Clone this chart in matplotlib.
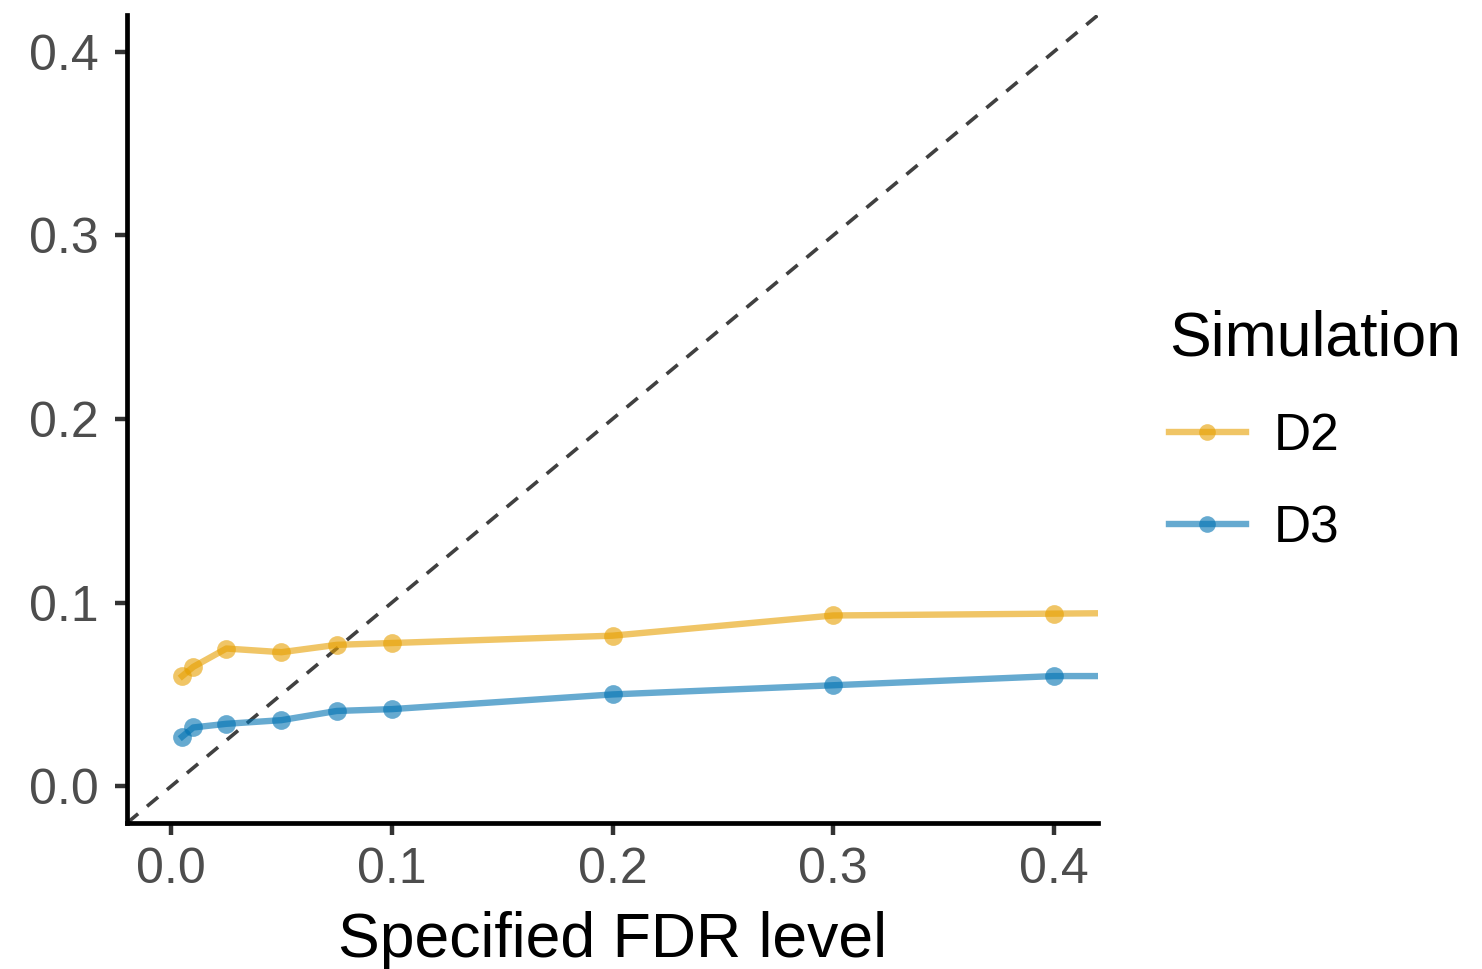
import matplotlib
matplotlib.use("Agg")
import matplotlib.pyplot as plt

plt.rcParams['font.family'] = ['Liberation Sans', 'DejaVu Sans']

fdr_level = [0.005, 0.01, 0.025, 0.05, 0.075, 0.1, 0.2, 0.3, 0.4, 0.5]
d2_fdp = [0.060, 0.065, 0.075, 0.073, 0.077, 0.078, 0.082, 0.093, 0.094, 0.095]
d3_fdp = [0.027, 0.032, 0.034, 0.036, 0.041, 0.042, 0.050, 0.055, 0.060, 0.060]
series = [("D2", d2_fdp, "#E69F00"), ("D3", d3_fdp, "#0072B2")]

xticks = [0.0, 0.1, 0.2, 0.3, 0.4]
yticks = [0.0, 0.1, 0.2, 0.3, 0.4]

fig = plt.figure(figsize=(14.82, 9.69), dpi=100)
ax = fig.add_axes([0.0857, 0.1507, 0.6552, 0.8338])

# identity line
ax.plot([-0.02, 1], [-0.02, 1], ls=(0, (4, 3.2)), color="#404040", lw=2.6, zorder=1)

for name, vals, col in series:
    ax.plot(fdr_level, vals, color=col, alpha=0.6, lw=4.6, zorder=2)
    ax.plot(fdr_level, vals, ls="none", marker="o", ms=13.5, color=col,
            alpha=0.6, markeredgewidth=0, zorder=3)

# legend proxies: line with marker
handles = []
for name, vals, col in series:
    h, = ax.plot([], [], color=col, alpha=0.6, lw=4.6, marker="o", ms=12,
                 markeredgewidth=0, label=name)
    handles.append(h)

ax.set_xlim(-0.02, 0.42)
ax.set_ylim(-0.02, 0.42)
ax.set_xticks(xticks)
ax.set_yticks(yticks)
ax.set_xticklabels([f"{t:.1f}" for t in xticks])
ax.set_yticklabels([f"{t:.1f}" for t in yticks])
ax.tick_params(labelsize=36, colors="#333333", labelcolor="#4D4D4D",
               length=8.5, width=3.2, pad=9)
ax.tick_params(axis="y", pad=12)
ax.set_xlabel("Specified FDR level", fontsize=45, color="black", labelpad=13)

for side in ["top", "right"]:
    ax.spines[side].set_visible(False)
for side in ["left", "bottom"]:
    ax.spines[side].set_linewidth(3.4)
    ax.spines[side].set_color("black")

leg = ax.legend(handles=handles, title="Simulation", loc="upper left",
                bbox_to_anchor=(1.073, 0.636), frameon=False, fontsize=37,
                title_fontsize=45, handlelength=1.5, handletextpad=0.55,
                labelspacing=0.85, alignment="left", borderaxespad=0,
                borderpad=0)

fig.savefig("out.png", dpi=100)
